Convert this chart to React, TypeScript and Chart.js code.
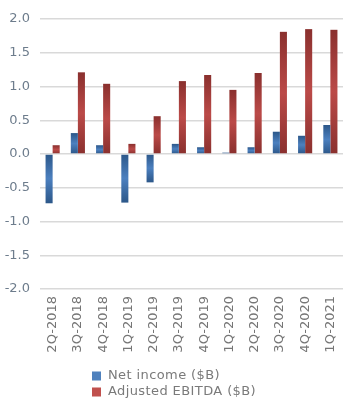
import React, { useEffect, useRef } from "react";
import { Chart, registerables } from "chart.js";

Chart.register(...registerables);

const categories = [
  "2Q-2018", "3Q-2018", "4Q-2018", "1Q-2019", "2Q-2019", "3Q-2019",
  "4Q-2019", "1Q-2020", "2Q-2020", "3Q-2020", "4Q-2020", "1Q-2021",
];
const netIncome = [-0.73, 0.31, 0.13, -0.72, -0.42, 0.15, 0.1, 0.02, 0.1, 0.33, 0.27, 0.43];
const adjustedEbitda = [0.13, 1.21, 1.04, 0.15, 0.56, 1.08, 1.17, 0.95, 1.2, 1.81, 1.85, 1.84];
const seriesNames = ["Net income ($B)", "Adjusted EBITDA ($B)"];
const legendColors = ["#4f81bd", "#c0504d"];
const gradDark = ["#2c5789", "#8a302e"];
const gradLight = ["#4c80bf", "#bb4a48"];

const FONT = "'DejaVu Sans', sans-serif";

function barGradient(idx: number) {
  return (ctx: any) => {
    if (ctx.type !== "data") return legendColors[idx];
    const chart = ctx.chart;
    const y = chart.scales?.y;
    if (!y || !chart.chartArea) return legendColors[idx];
    const v = ctx.raw as number;
    let top = y.getPixelForValue(v);
    const base = y.getPixelForValue(0);
    if (Math.abs(top - base) < 1) top = base - 1;
    const g = chart.ctx.createLinearGradient(0, top, 0, base);
    g.addColorStop(0, gradDark[idx]);
    g.addColorStop(0.5, gradLight[idx]);
    g.addColorStop(1, gradDark[idx]);
    return g;
  };
}

const legendPlugin = {
  id: "customLegend",
  afterDraw(chart: any) {
    const c = chart.ctx;
    const bottom = chart.chartArea.bottom;
    c.save();
    c.font = `13px ${FONT}`;
    try { (c as any).letterSpacing = "0.4px"; } catch (e) {}
    c.textBaseline = "middle";
    seriesNames.forEach((name, i) => {
      const cy = bottom + 87 + i * 16;
      c.fillStyle = legendColors[i];
      c.fillRect(92, cy - 4.5, 9, 9);
      c.fillStyle = "#7a7a7a";
      c.fillText(name, 108, cy);
    });
    c.restore();
  },
};

export default function App() {
  const ref = useRef<HTMLCanvasElement | null>(null);
  useEffect(() => {
    if (!ref.current) return;
    const chart = new Chart(ref.current, {
      type: "bar",
      data: {
        labels: categories,
        datasets: [
          { label: seriesNames[0], data: netIncome, backgroundColor: barGradient(0) as any },
          { label: seriesNames[1], data: adjustedEbitda, backgroundColor: barGradient(1) as any },
        ],
      },
      options: {
        animation: false,
        responsive: false,
        maintainAspectRatio: false,
        layout: { padding: { top: 19, right: 20, left: 0, bottom: 0 } },
        datasets: { bar: { categoryPercentage: 0.56, barPercentage: 1.0 } },
        plugins: { legend: { display: false }, tooltip: { enabled: false } },
        scales: {
          x: {
            grid: { display: false, drawTicks: false },
            border: { display: false },
            ticks: {
              minRotation: 90,
              maxRotation: 90,
              autoSkip: false,
              padding: 7,
              color: "#767676",
              font: { family: FONT, size: 13 },
            },
            afterFit: (s: any) => { s.height = 124; },
          },
          y: {
            min: -2,
            max: 2,
            grid: { color: "#d9d9d9", lineWidth: 1.5, drawTicks: false },
            border: { display: false },
            ticks: {
              stepSize: 0.5,
              padding: 10,
              color: "#6d7c8c",
              font: { family: FONT, size: 13 },
              callback: (v: any) => Number(v).toFixed(1),
            },
            afterFit: (s: any) => { s.width = 40; },
          },
        },
      },
      plugins: [legendPlugin],
    });
    return () => chart.destroy();
  }, []);
  return (
    <div style={{ position: "absolute", left: 0, top: 0, width: 363, height: 413, background: "#fff" }}>
      <canvas ref={ref} width={363} height={413} />
    </div>
  );
}
